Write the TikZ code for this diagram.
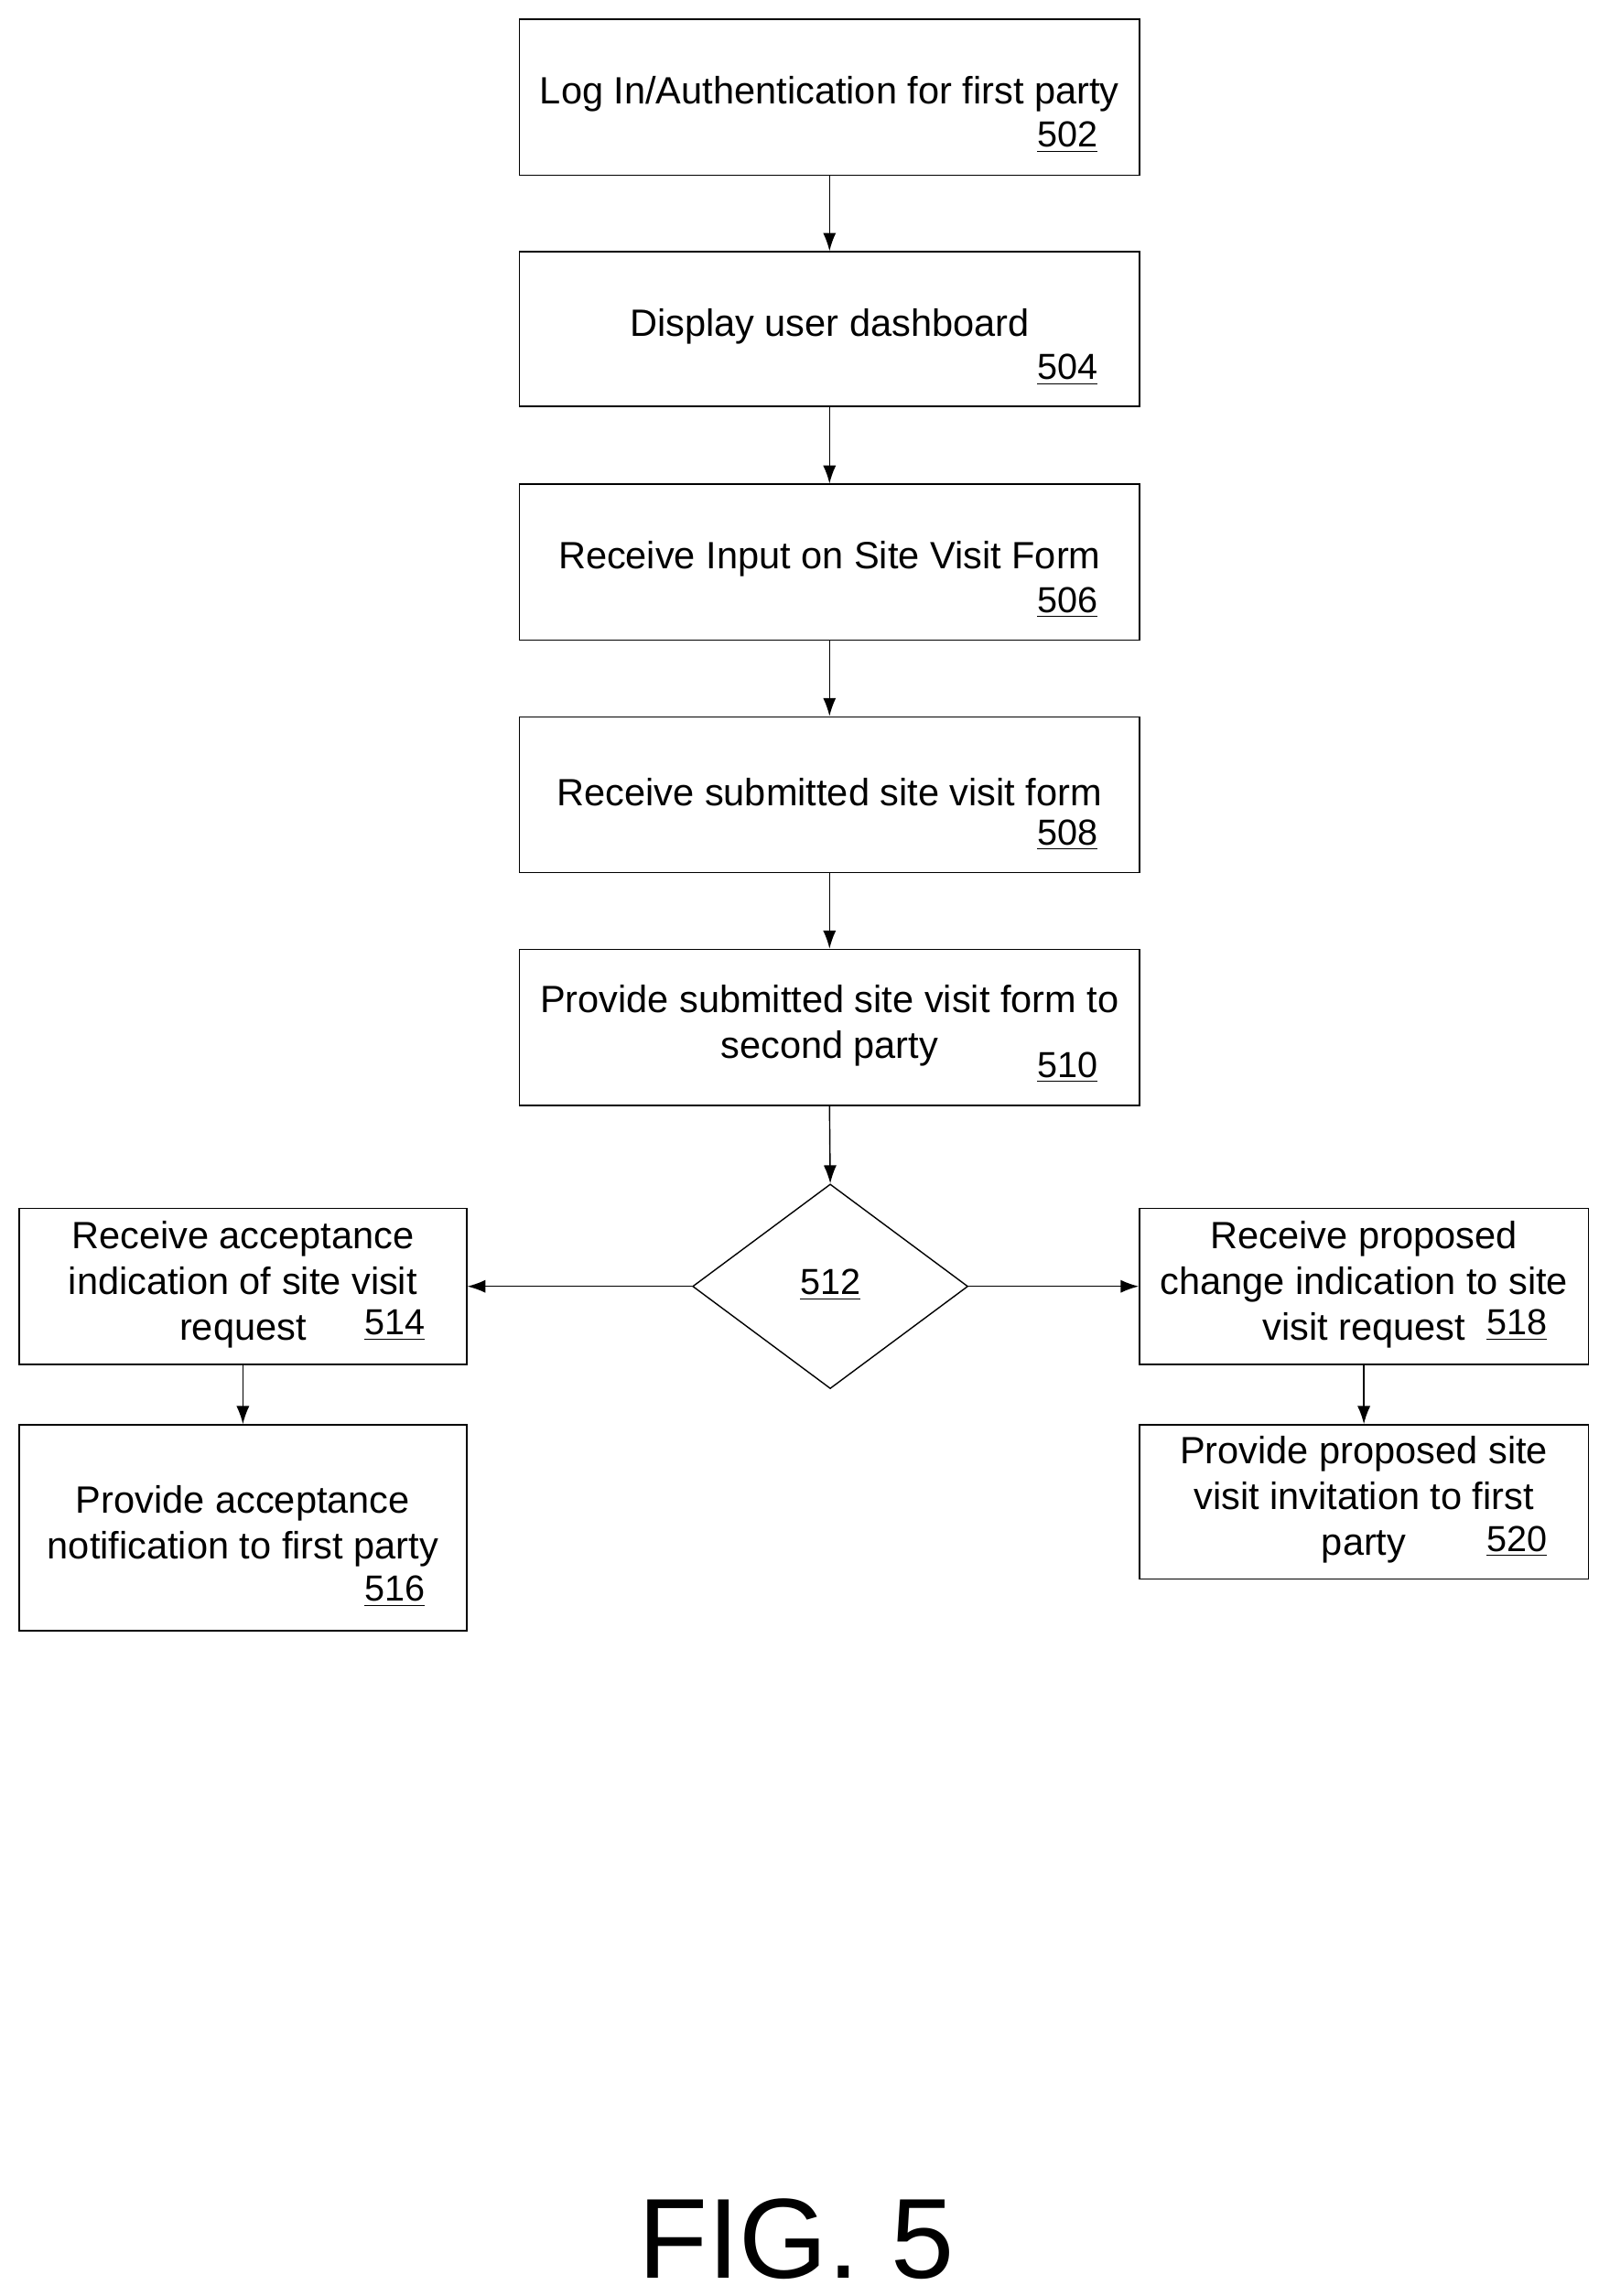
\documentclass[tikz,border=0pt]{standalone}
\usepackage{fontspec}
\setmainfont{Liberation Sans}
\usetikzlibrary{shapes.geometric,arrows.meta}
\begin{document}
\begin{tikzpicture}[x=0.02cm,y=-0.02cm,
  box/.style={draw,line width=0.5pt,inner sep=0pt},
  txt/.style={font=\fontsize{14.7}{17.7}\selectfont,align=center},
  num/.style={font=\fontsize{14}{16}\selectfont,anchor=base east},
  arr/.style={-{Latex[length=7pt,width=5pt]},line width=0.5pt}]
\useasboundingbox (0,0) rectangle (1086,1560);
% boxes
\node[box,minimum width=421*0.02cm,minimum height=106*0.02cm] (b502) at (563.5,66) {};
\node[box,minimum width=421*0.02cm,minimum height=105*0.02cm] (b504) at (563.5,223.5) {};
\node[box,minimum width=421*0.02cm,minimum height=106*0.02cm] (b506) at (563.5,382) {};
\node[box,minimum width=421*0.02cm,minimum height=106*0.02cm] (b508) at (563.5,540) {};
\node[box,minimum width=421*0.02cm,minimum height=106*0.02cm] (b510) at (563.5,698) {};
\node[draw,line width=0.5pt,diamond,minimum width=187*0.02cm,minimum height=139*0.02cm,inner sep=0pt] (d512) at (564,874) {};
\node[box,minimum width=304*0.02cm,minimum height=106*0.02cm] (b514) at (165,874) {};
\node[box,minimum width=304*0.02cm,minimum height=140*0.02cm] (b516) at (165,1038) {};
\node[box,minimum width=305*0.02cm,minimum height=106*0.02cm] (b518) at (926.5,874) {};
\node[box,minimum width=305*0.02cm,minimum height=105*0.02cm] (b520) at (926.5,1020.5) {};
% texts
\node[txt] (t502) at (563.5,64) {Log In/Authentication for first party};
\node[num] (n502) at (752,100) {\underline{502}};
\node[txt] (t504) at (563.5,222) {Display user dashboard};
\node[num] (n504) at (752,258) {\underline{504}};
\node[txt] (t506) at (563.5,380) {Receive Input on Site Visit Form};
\node[num] (n506) at (752,416) {\underline{506}};
\node[txt] (t508) at (563.5,538) {Receive submitted site visit form};
\node[num] (n508) at (752,574) {\underline{508}};
\node[txt] (t510) at (563.5,697) {Provide submitted site visit form to\\second party};
\node[num] (n510) at (752,732) {\underline{510}};
\node[font=\fontsize{14}{16}\selectfont] (n512) at (564,873) {\underline{512}};
\node[txt] (t514) at (165,873) {Receive acceptance\\indication of site visit\\request};
\node[num] (n514) at (295,907) {\underline{514}};
\node[txt] (t516) at (165,1037) {Provide acceptance\\notification to first party};
\node[num] (n516) at (295,1088) {\underline{516}};
\node[txt] (t518) at (926.5,873) {Receive proposed\\change indication to site\\visit request};
\node[num] (n518) at (1057,907) {\underline{518}};
\node[txt] (t520) at (926.5,1019) {Provide proposed site\\visit invitation to first\\party};
\node[num] (n520) at (1057,1054) {\underline{520}};
\node[font=\fontsize{44}{46}\selectfont] (fig) at (541,1521) {FIG. 5};
% arrows
\draw[arr] (b502) -- (b504);
\draw[arr] (b504) -- (b506);
\draw[arr] (b506) -- (b508);
\draw[arr] (b508) -- (b510);
\draw[arr] (b510.south) -- (d512.north);
\draw[arr] (d512.west) -- (b514.east);
\draw[arr] (d512.east) -- (b518.west);
\draw[arr] (b514) -- (b516);
\draw[arr] (b518) -- (b520);
\end{tikzpicture}
\end{document}
